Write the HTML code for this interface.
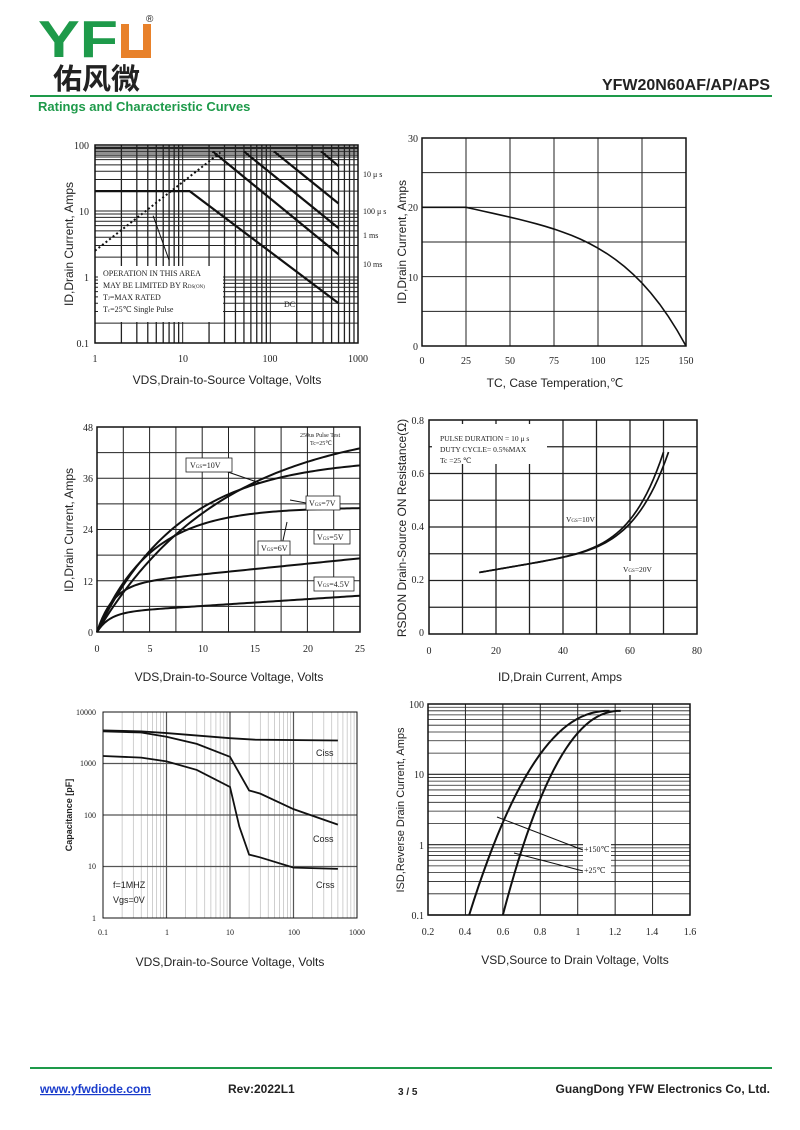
<!DOCTYPE html>
<html><head><meta charset="utf-8"><style>
body{margin:0;background:#fff;width:800px;height:1130px;overflow:hidden}
svg{display:block}
text{font-family:"Liberation Serif",serif;fill:#222}
.s{font-family:"Liberation Sans",sans-serif}
</style></head><body>
<svg id="g" width="800" height="1130" viewBox="0 0 800 1130" xmlns="http://www.w3.org/2000/svg">
<!-- header -->
<text x="38" y="57" class="s" font-size="52" font-weight="bold" style="fill:#1e9a4a" textLength="80" lengthAdjust="spacingAndGlyphs">YF</text>
<path d="M121 24 h8 v26 h14 v-26 h8 v34 h-30z" fill="#e8812a"/>
<text x="146" y="22" class="s" font-size="10">®</text>
<text x="53" y="89" font-size="29" style="font-family:'Noto Sans CJK SC',sans-serif;font-weight:bold" fill="#222">佑风微</text>
<line x1="30" y1="96" x2="772" y2="96" stroke="#1e9a4a" stroke-width="2"/>
<text x="770" y="90" class="s" font-size="16" font-weight="bold" text-anchor="end" fill="#111">YFW20N60AF/AP/APS</text>
<text x="38" y="111" class="s" font-size="13" font-weight="bold" style="fill:#1e9a4a">Ratings and Characteristic Curves</text>
<!-- footer -->
<line x1="30" y1="1068" x2="772" y2="1068" stroke="#1e9a4a" stroke-width="2"/>
<text x="40" y="1093" class="s" font-size="12" font-weight="bold" style="fill:#1a3ccc" text-decoration="underline">www.yfwdiode.com</text>
<text x="228" y="1093" class="s" font-size="12" font-weight="bold">Rev:2022L1</text>
<text x="398" y="1095" class="s" font-size="10" font-weight="bold">3 / 5</text>
<text x="770" y="1093" class="s" font-size="12" font-weight="bold" text-anchor="end">GuangDong YFW Electronics Co, Ltd.</text>

<!-- chart1 labels -->
<text x="89" y="149" font-size="10" text-anchor="end">100</text>
<text x="89" y="215" font-size="10" text-anchor="end">10</text>
<text x="89" y="281" font-size="10" text-anchor="end">1</text>
<text x="89" y="347" font-size="10" text-anchor="end">0.1</text>
<text x="95" y="362" font-size="10" text-anchor="middle">1</text>
<text x="183" y="362" font-size="10" text-anchor="middle">10</text>
<text x="270" y="362" font-size="10" text-anchor="middle">100</text>
<text x="358" y="362" font-size="10" text-anchor="middle">1000</text>
<text x="227" y="384" class="s" font-size="12" text-anchor="middle">VDS,Drain-to-Source Voltage, Volts</text>
<text transform="translate(73,244) rotate(-90)" class="s" font-size="12" text-anchor="middle">ID,Drain Current, Amps</text>
<text x="363" y="177" font-size="8">10 μ s</text><text x="363" y="214" font-size="8">100 μ s</text>
<text x="363" y="238" font-size="8">1 ms</text><text x="363" y="267" font-size="8">10 ms</text>
<text x="284" y="307" font-size="8">DC</text>
<rect x="98" y="266" width="125" height="56" fill="#fff"/>
<text x="103" y="276" font-size="8">OPERATION IN THIS AREA</text>
<text x="103" y="288" font-size="8">MAY BE LIMITED BY R<tspan font-size="5">DS(ON)</tspan></text>
<text x="103" y="300" font-size="8">T<tspan font-size="5">J</tspan>=MAX RATED</text>
<text x="103" y="312" font-size="8">T<tspan font-size="5">c</tspan>=25℃  Single Pulse</text>

<!-- chart2 labels -->
<text x="418" y="142" font-size="10" text-anchor="end">30</text>
<text x="418" y="211" font-size="10" text-anchor="end">20</text>
<text x="418" y="281" font-size="10" text-anchor="end">10</text>
<text x="418" y="350" font-size="10" text-anchor="end">0</text>
<text x="422" y="364" font-size="10" text-anchor="middle">0</text><text x="466" y="364" font-size="10" text-anchor="middle">25</text>
<text x="510" y="364" font-size="10" text-anchor="middle">50</text><text x="554" y="364" font-size="10" text-anchor="middle">75</text>
<text x="598" y="364" font-size="10" text-anchor="middle">100</text><text x="642" y="364" font-size="10" text-anchor="middle">125</text>
<text x="686" y="364" font-size="10" text-anchor="middle">150</text>
<text x="555" y="387" class="s" font-size="12" text-anchor="middle">TC, Case Temperation,℃</text>
<text transform="translate(406,242) rotate(-90)" class="s" font-size="12" text-anchor="middle">ID,Drain Current, Amps</text>

<!-- chart3 labels -->
<text x="93" y="431" font-size="10" text-anchor="end">48</text>
<text x="93" y="482" font-size="10" text-anchor="end">36</text>
<text x="93" y="533" font-size="10" text-anchor="end">24</text>
<text x="93" y="585" font-size="10" text-anchor="end">12</text>
<text x="93" y="636" font-size="10" text-anchor="end">0</text>
<text x="97" y="652" font-size="10" text-anchor="middle">0</text><text x="150" y="652" font-size="10" text-anchor="middle">5</text>
<text x="203" y="652" font-size="10" text-anchor="middle">10</text><text x="255" y="652" font-size="10" text-anchor="middle">15</text>
<text x="308" y="652" font-size="10" text-anchor="middle">20</text><text x="360" y="652" font-size="10" text-anchor="middle">25</text>
<text x="229" y="681" class="s" font-size="12" text-anchor="middle">VDS,Drain-to-Source Voltage, Volts</text>
<text transform="translate(73,530) rotate(-90)" class="s" font-size="12" text-anchor="middle">ID,Drain Current, Amps</text>
<text x="300" y="437" font-size="6">250us Pulse Test</text><text x="310" y="445" font-size="6">Tc=25℃</text>
<rect x="186" y="458" width="46" height="14" fill="#fff" stroke="#222" stroke-width="0.8"/><text x="190" y="468" font-size="8">V<tspan font-size="5">GS</tspan>=10V</text>
<rect x="306" y="496" width="34" height="14" fill="#fff" stroke="#222" stroke-width="0.8"/><text x="309" y="506" font-size="8">V<tspan font-size="5">GS</tspan>=7V</text>
<rect x="258" y="541" width="32" height="14" fill="#fff" stroke="#222" stroke-width="0.8"/><text x="261" y="551" font-size="8">V<tspan font-size="5">GS</tspan>=6V</text>
<rect x="314" y="530" width="36" height="14" fill="#fff" stroke="#222" stroke-width="0.8"/><text x="317" y="540" font-size="8">V<tspan font-size="5">GS</tspan>=5V</text>
<rect x="314" y="577" width="40" height="14" fill="#fff" stroke="#222" stroke-width="0.8"/><text x="317" y="587" font-size="8">V<tspan font-size="5">GS</tspan>=4.5V</text>

<!-- chart4 labels -->
<text x="424" y="424" font-size="10" text-anchor="end">0.8</text>
<text x="424" y="477" font-size="10" text-anchor="end">0.6</text>
<text x="424" y="530" font-size="10" text-anchor="end">0.4</text>
<text x="424" y="583" font-size="10" text-anchor="end">0.2</text>
<text x="424" y="636" font-size="10" text-anchor="end">0</text>
<text x="429" y="654" font-size="10" text-anchor="middle">0</text><text x="496" y="654" font-size="10" text-anchor="middle">20</text>
<text x="563" y="654" font-size="10" text-anchor="middle">40</text><text x="630" y="654" font-size="10" text-anchor="middle">60</text>
<text x="697" y="654" font-size="10" text-anchor="middle">80</text>
<text x="560" y="681" class="s" font-size="12" text-anchor="middle">ID,Drain Current, Amps</text>
<text transform="translate(406,528) rotate(-90)" class="s" font-size="12" text-anchor="middle">RSDON Drain-Source ON Resistance(Ω)</text>
<rect x="432" y="424" width="115" height="40" fill="#fff"/>
<text x="440" y="441" font-size="7.5">PULSE   DURATION = 10 μ s</text>
<text x="440" y="452" font-size="7.5">DUTY   CYCLE= 0.5%MAX</text>
<text x="440" y="463" font-size="7.5">Tc =25  ℃</text>
<text x="566" y="522" font-size="7.5">V<tspan font-size="5">GS</tspan>=10V</text>
<rect x="620" y="561" width="42" height="14" fill="#fff"/>
<text x="623" y="572" font-size="7.5">V<tspan font-size="5">GS</tspan>=20V</text>

<!-- chart5 labels -->
<g class="s" font-size="8" style="font-family:'Liberation Sans',sans-serif">
<text x="96" y="715" text-anchor="end">10000</text><text x="96" y="766" text-anchor="end">1000</text>
<text x="96" y="818" text-anchor="end">100</text><text x="96" y="869" text-anchor="end">10</text>
<text x="96" y="921" text-anchor="end">1</text>
<text x="103" y="935" text-anchor="middle">0.1</text><text x="167" y="935" text-anchor="middle">1</text>
<text x="230" y="935" text-anchor="middle">10</text><text x="294" y="935" text-anchor="middle">100</text>
<text x="357" y="935" text-anchor="middle">1000</text>
</g>
<text x="230" y="966" class="s" font-size="12" text-anchor="middle">VDS,Drain-to-Source Voltage, Volts</text>
<text transform="translate(72,815) rotate(-90)" class="s" font-size="9" font-weight="bold" text-anchor="middle">Capacitance [pF]</text>
<text x="316" y="756" class="s" font-size="9">Ciss</text>
<text x="313" y="842" class="s" font-size="9">Coss</text>
<text x="316" y="888" class="s" font-size="9">Crss</text>
<text x="113" y="888" class="s" font-size="9">f=1MHZ</text>
<text x="113" y="903" class="s" font-size="9">Vgs=0V</text>

<!-- chart6 labels -->
<text x="424" y="708" font-size="10" text-anchor="end">100</text>
<text x="424" y="778" font-size="10" text-anchor="end">10</text>
<text x="424" y="849" font-size="10" text-anchor="end">1</text>
<text x="424" y="919" font-size="10" text-anchor="end">0.1</text>
<text x="428" y="935" font-size="10" text-anchor="middle">0.2</text><text x="465" y="935" font-size="10" text-anchor="middle">0.4</text>
<text x="503" y="935" font-size="10" text-anchor="middle">0.6</text><text x="540" y="935" font-size="10" text-anchor="middle">0.8</text>
<text x="578" y="935" font-size="10" text-anchor="middle">1</text><text x="615" y="935" font-size="10" text-anchor="middle">1.2</text>
<text x="652" y="935" font-size="10" text-anchor="middle">1.4</text><text x="690" y="935" font-size="10" text-anchor="middle">1.6</text>
<text x="575" y="964" class="s" font-size="12" text-anchor="middle">VSD,Source to Drain Voltage, Volts</text>
<text transform="translate(404,810) rotate(-90)" class="s" font-size="11" text-anchor="middle">ISD,Reverse Drain Current, Amps</text>
<rect x="583" y="844" width="28" height="30" fill="#fff"/>
<text x="584" y="852" font-size="8">+150℃</text>
<text x="584" y="873" font-size="8">+25℃</text>
</svg>
<script>
const S=document.getElementById('g'),NS='http://www.w3.org/2000/svg';
const ins=S.firstChild;
function L(x1,y1,x2,y2,w,c,d){const l=document.createElementNS(NS,'line');l.setAttribute('x1',x1);l.setAttribute('y1',y1);l.setAttribute('x2',x2);l.setAttribute('y2',y2);l.setAttribute('stroke',c||'#222');l.setAttribute('stroke-width',w||1);if(d)l.setAttribute('stroke-dasharray',d);S.insertBefore(l,ins);}
function P(pts,w,d){const p=document.createElementNS(NS,'polyline');p.setAttribute('points',pts.map(a=>a.join(',')).join(' '));p.setAttribute('fill','none');p.setAttribute('stroke','#111');p.setAttribute('stroke-width',w||2);if(d)p.setAttribute('stroke-dasharray',d);S.insertBefore(p,ins);}
function R(x,y,w,h,sw){const r=document.createElementNS(NS,'rect');r.setAttribute('x',x);r.setAttribute('y',y);r.setAttribute('width',w);r.setAttribute('height',h);r.setAttribute('fill','none');r.setAttribute('stroke','#111');r.setAttribute('stroke-width',sw||1.5);S.insertBefore(r,ins);}
const lg=Math.log10;
// chart1
{const x0=95,x1=358,y0=343,y1=145,dx=(x1-x0)/3,dy=(y0-y1)/3;
const X=v=>x0+lg(v)*dx,Y=v=>y0-(lg(v)+1)*dy;
for(let d=0;d<3;d++)for(let k=1;k<10;k++){L(X(k*10**d),y1,X(k*10**d),y0,k==1?1:1.3);}
for(let d=-1;d<2;d++)for(let k=1;k<10;k++){L(x0,Y(k*10**d),x1,Y(k*10**d),1);}
for(let i=0;i<6;i++)L(x0,y1+2+i*2,x1,y1+2+i*2,1);
R(x0,y1,x1-x0,y0-y1,1.5);
P([[X(1),Y(20)],[X(12),Y(20)],[X(600),Y(0.4)]],2.2);
P([[X(1),Y(2.5)],[X(28),Y(80)]],2,'2,2.5');
P([[X(22),Y(80)],[X(600),Y(2.2)]],2.2);P([[X(50),Y(80)],[X(600),Y(5.5)]],2.2);
P([[X(110),Y(80)],[X(600),Y(13)]],2.2);P([[X(380),Y(80)],[X(600),Y(48)]],2.2);
P([[X(4.6),Y(8.5)],[X(7),Y(1.8)]],1);}
// chart2
{const x0=422,x1=686,y0=346,y1=138;
for(let i=1;i<6;i++)L(x0+i*(x1-x0)/6,y1,x0+i*(x1-x0)/6,y0,1);
for(let i=1;i<6;i++)L(x0,y1+i*(y0-y1)/6,x1,y1+i*(y0-y1)/6,1);
R(x0,y1,x1-x0,y0-y1,1.5);
const X=v=>x0+v/150*(x1-x0),Y=v=>y0-v/30*(y0-y1);const pts=[[X(0),Y(20)],[X(25),Y(20)]];
for(let t=25;t<=150;t+=5){const u=(t-25)/125;pts.push([X(t),Y(20*(1-0.35*u-0.65*u**4))]);}P(pts,1.6);}
// chart3
{const x0=97,x1=360,y0=632,y1=427;
for(let i=1;i<10;i++)L(x0+i*(x1-x0)/10,y1,x0+i*(x1-x0)/10,y0,1);
for(let i=1;i<8;i++)L(x0,y1+i*(y0-y1)/8,x1,y1+i*(y0-y1)/8,1);
R(x0,y1,x1-x0,y0-y1,1.5);
const X=v=>x0+v/25*(x1-x0),Y=v=>y0-v/48*(y0-y1);
const fs=[v=>43*(1-Math.exp(-v/12))/(1-Math.exp(-25/12)),
v=>39*(1-Math.exp(-v/8))/(1-Math.exp(-25/8)),
v=>29*(1-Math.exp(-v/5))/(1-Math.exp(-5)),
v=>11*(1-Math.exp(-v/1.5))+0.25*v,
v=>4.5*(1-Math.exp(-v/1.2))+0.16*v];
fs.forEach(f=>{const p=[];for(let v=0;v<=25;v+=0.25)p.push([X(v),Y(f(v))]);P(p,2);});
P([[222,470],[260,483]],1);P([[282,545],[287,522]],1);P([[290,500],[306,503]],1);}
// chart4
{const x0=429,x1=697,y0=634,y1=420;
for(let i=1;i<8;i++)L(x0+i*(x1-x0)/8,y1,x0+i*(x1-x0)/8,y0,1.3);
for(let i=1;i<8;i++)L(x0,y1+i*(y0-y1)/8,x1,y1+i*(y0-y1)/8,1.3);
R(x0,y1,x1-x0,y0-y1,1.5);
const X=v=>x0+v/80*(x1-x0),Y=v=>y0-v/0.8*(y0-y1);
[0,1.5].forEach(o=>{const p=[];for(let v=15;v<=70;v+=1){const u=(v-15)/55;p.push([X(v+o*u*u),Y(0.23+0.12*u+0.33*u**6)]);}P(p,1.7);});}
// chart5
{const x0=103,x1=357,y0=918,y1=712,dx=(x1-x0)/4,dy=(y0-y1)/4;
const X=v=>x0+(lg(v)+1)*dx,Y=v=>y0-lg(v)*dy;
for(let d=-1;d<3;d++)for(let k=2;k<10;k++)L(X(k*10**d),y1,X(k*10**d),y0,0.7,'#bbb');
for(let i=1;i<4;i++){L(X(10**(i-1)),y1,X(10**(i-1)),y0,1.2,'#555');L(x0,Y(10**i),x1,Y(10**i),1.2,'#555');}
R(x0,y1,x1-x0,y0-y1,1);
P([[X(0.1),Y(4400)],[X(0.4),Y(4200)],[X(1),Y(3900)],[X(10),Y(3100)],[X(25),Y(2900)],[X(500),Y(2800)]],1.8);
P([[X(0.1),Y(4200)],[X(0.4),Y(4000)],[X(1),Y(3300)],[X(3),Y(2400)],[X(10),Y(1350)],[X(20),Y(300)],[X(30),Y(260)],[X(100),Y(130)],[X(500),Y(65)]],1.8);
P([[X(0.1),Y(1400)],[X(0.4),Y(1300)],[X(1),Y(1100)],[X(3),Y(750)],[X(10),Y(350)],[X(14),Y(60)],[X(20),Y(17)],[X(30),Y(15)],[X(100),Y(9.5)],[X(500),Y(9)]],1.8);}
// chart6
{const x0=428,x1=690,y0=915,y1=704,dy=(y0-y1)/3;
const X=v=>x0+(v-0.2)/1.4*(x1-x0),Y=v=>y0-(lg(v)+1)*dy;
for(let i=1;i<7;i++)L(X(0.2+i*0.2),y1,X(0.2+i*0.2),y0,1);
for(let d=-1;d<2;d++)for(let k=1;k<10;k++)L(x0,Y(k*10**d),x1,Y(k*10**d),k==1?1.2:0.8);
R(x0,y1,x1-x0,y0-y1,1.5);
[[0.42,0],[0.6,0.06]].forEach(([s,o])=>{const p=[];for(let i=0;i<=30;i++){const u=i/30;p.push([X(s+u*(1.17+o-s)),Y(0.1*Math.pow(800,1-Math.pow(1-u,2.2)))]);}P(p,2);});
P([[497,817],[583,850]],1);P([[514,853],[583,871]],1);}
</script>
</body></html>
